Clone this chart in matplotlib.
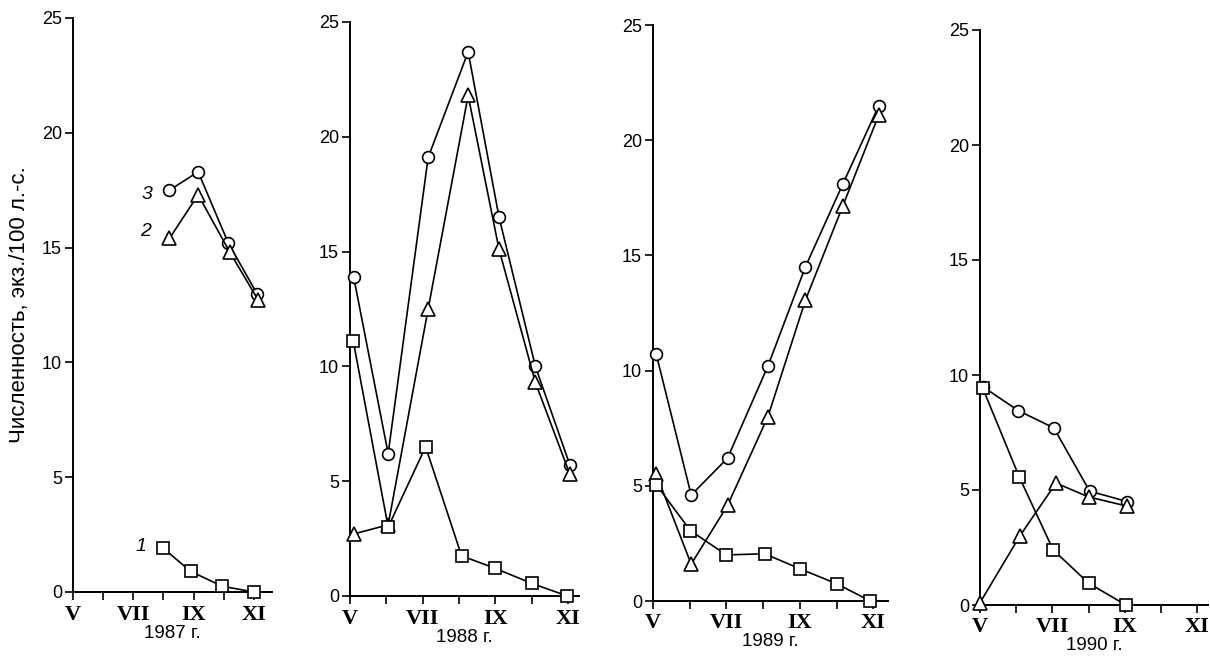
import matplotlib.pyplot as plt

# months counted from May (0 = V, 6 = XI)
month_ticks = [0, 1, 2, 3, 4, 5, 6]
month_labels = ['V', '', 'VII', '', 'IX', '', 'XI']
years = ['1987 г.', '1988 г.', '1989 г.', '1990 г.']

# 1987
x87_sq = [3.0, 3.9, 4.95, 6.0]
sq87 = [1.9, 0.9, 0.25, 0.0]
x87_tri = [3.2, 4.15, 5.2, 6.15]
tri87 = [15.4, 17.3, 14.8, 12.7]
x87_circ = [3.2, 4.15, 5.15, 6.1]
circ87 = [17.5, 18.3, 15.2, 13.0]

# 1988
x88 = [0.1, 1.05, 2.15, 3.25, 4.1, 5.1, 6.05]
circ88 = [13.9, 6.2, 19.1, 23.7, 16.5, 10.0, 5.7]
tri88 = [2.7, 3.1, 12.5, 21.8, 15.1, 9.3, 5.3]
x88_sq = [0.09, 1.05, 2.08, 3.07, 4.0, 5.0, 5.98]
sq88 = [11.1, 3.0, 6.5, 1.75, 1.2, 0.55, 0.0]

# 1989
x89 = [0.09, 1.04, 2.03, 3.13, 4.15, 5.17, 6.15]
circ89 = [10.7, 4.6, 6.2, 10.2, 14.5, 18.1, 21.5]
tri89 = [5.5, 1.6, 4.15, 8.0, 13.05, 17.15, 21.1]
x89_sq = [0.09, 1.02, 2.0, 3.04, 4.0, 5.0, 5.92]
sq89 = [5.05, 3.05, 2.0, 2.05, 1.4, 0.75, 0.0]

# 1990
x90_circ = [0.07, 1.06, 2.04, 3.03, 4.06]
circ90 = [9.5, 8.45, 7.7, 4.95, 4.5]
x90_tri = [0.0, 1.1, 2.1, 3.0, 4.06]
tri90 = [0.1, 3.0, 5.3, 4.7, 4.3]
x90_sq = [0.07, 1.09, 2.02, 3.0, 4.03]
sq90 = [9.45, 5.55, 2.4, 0.95, 0.0]

panels = [
    ((x87_circ, circ87), (x87_tri, tri87), (x87_sq, sq87)),
    ((x88, circ88), (x88, tri88), (x88_sq, sq88)),
    ((x89, circ89), (x89, tri89), (x89_sq, sq89)),
    ((x90_circ, circ90), (x90_tri, tri90), (x90_sq, sq90)),
]

W, H = 1210, 662
# left px, y of zero line px, width px, height px, x max (months)
boxes = [
    (73, 592, 199, 574, 6.6),
    (350, 596, 229, 574, 6.3),
    (653, 601, 235, 576, 6.4),
    (980, 605, 228, 575, 6.3),
]

fig = plt.figure(figsize=(W / 100, H / 100), dpi=100)

for i, ((cx, cy), (tx, ty), (sx, sy)) in enumerate(panels):
    left, y0, w, h, xmax = boxes[i]
    ax = fig.add_axes([left / W, (H - y0) / H, w / W, h / H])
    kw = dict(color='black', lw=1.2, mfc='white', mec='black', mew=1.2, clip_on=False)
    ax.plot(cx, cy, marker='o', ms=8.5, zorder=3, **kw)
    ax.plot(tx, ty, marker='^', ms=9.5, zorder=4, **kw)
    ax.plot(sx, sy, marker='s', ms=8, zorder=5, **kw)

    ax.set_xlim(0, xmax)
    ax.set_ylim(0, 25)
    ax.set_yticks([0, 5, 10, 15, 20, 25])
    ax.set_xticks(month_ticks)
    ax.set_xticklabels(month_labels, family='Liberation Serif', fontsize=16, fontweight='bold')
    for s in ['top', 'right']:
        ax.spines[s].set_visible(False)
    for s in ['left', 'bottom']:
        ax.spines[s].set_linewidth(1.4)
    ax.tick_params(axis='y', direction='out', length=6, width=1.2, pad=2, labelsize=13)
    ax.tick_params(axis='x', direction='out', length=6, width=1.2, pad=3)
    for lab in ax.get_yticklabels():
        lab.set_family('Liberation Sans')
    ax.set_xlabel(years[i], fontsize=13.5, family='Liberation Sans', labelpad=0)

    if i == 0:
        ax.text(2.45, 17.3, '3', fontsize=14, style='italic', ha='center', va='center',
                family='Liberation Sans')
        ax.text(2.42, 15.7, '2', fontsize=14, style='italic', ha='center', va='center',
                family='Liberation Sans')
        ax.text(2.26, 2.0, '1', fontsize=14, style='italic', ha='center', va='center',
                family='Liberation Sans')

fig.text(20 / W, 1 - 305 / H, 'Численность, экз./100 л.-с.', rotation=90,
         ha='center', va='center', fontsize=16, family='Liberation Sans')

fig.savefig('out.png', dpi=100, facecolor='white')
